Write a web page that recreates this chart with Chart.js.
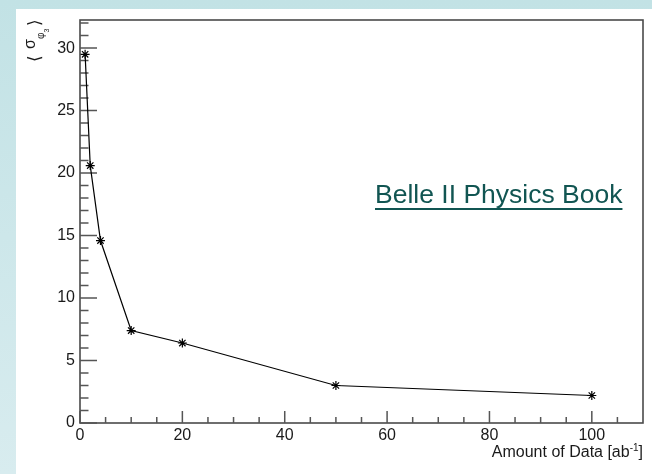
<!DOCTYPE html>
<html>
<head>
<meta charset="utf-8">
<title>sigma phi3 vs amount of data</title>
<script src="https://cdn.jsdelivr.net/npm/chart.js@4.4.1/dist/chart.umd.min.js"></script>
<style>
	body { margin: 0; width: 652px; height: 474px; overflow: hidden; background: linear-gradient(#c2e2e5, #d8ecef); font-family: "Liberation Sans", Arial, sans-serif; }
	#panel { position: absolute; left: 16px; top: 9px; right: 0; bottom: 0; background: #fff; }
	#grafik { position: absolute; left: 0; top: 0; }
	#book { position: absolute; left: 375px; top: 181px; font-size: 26.5px; line-height: 26px; color: #115552; text-decoration: underline; text-decoration-thickness: 2px; text-underline-offset: 5px; white-space: nowrap; }
</style>
</head>
<body>
<div id="panel"></div>
<canvas id="grafik" width="652" height="474"></canvas>
<div id="book">Belle II Physics Book</div>
<script>
	// integrated luminosity [ab^-1] and expected phi3 resolution
	var amount = [1, 2, 4, 10, 20, 50, 100];
	var sigmaPhi3 = [29.5, 20.6, 14.6, 7.4, 6.4, 3.0, 2.2];

	var xTicks = [0, 20, 40, 60, 80, 100];
	var yTicks = [0, 5, 10, 15, 20, 25, 30];

	var fontFamily = '"Liberation Sans", Arial, sans-serif';

	var points = [];
	for (var i = 0; i < amount.length; i++) {
		points.push({ x: amount[i], y: sigmaPhi3[i] });
	}

	// root style frame: box plus ticks pointing inwards, minor ticks in between
	var rootFrame = {
		id: 'rootFrame',
		beforeDatasetsDraw: function (chart) {
			var ctx = chart.ctx;
			var a = chart.chartArea;
			var sx = chart.scales.x;
			var sy = chart.scales.y;
			ctx.save();
			ctx.strokeStyle = '#4a4a4a';
			ctx.lineWidth = 1.6;
			ctx.strokeRect(a.left, a.top, a.right - a.left, a.bottom - a.top);

			ctx.strokeStyle = '#555';
			ctx.lineWidth = 1.5;
			ctx.beginPath();
			for (var v = 0; v < 110; v += 5) {
				var px = sx.getPixelForValue(v);
				var len = (v % 20 === 0) ? 12 : 6;
				ctx.moveTo(px, a.bottom);
				ctx.lineTo(px, a.bottom - len);
			}
			for (var w = 0; w <= 32; w += 1) {
				var py = sy.getPixelForValue(w);
				var l = (w % 5 === 0) ? 17 : 8.5;
				ctx.moveTo(a.left, py);
				ctx.lineTo(a.left + l, py);
			}
			ctx.stroke();
			ctx.restore();
		},
		afterDraw: function (chart) {
			var ctx = chart.ctx;
			var a = chart.chartArea;
			ctx.save();
			ctx.fillStyle = '#1a1a1a';
			ctx.textBaseline = 'alphabetic';

			// x title, right aligned to the frame, with superscript
			var t1 = 'Amount of Data [ab';
			var t2 = '-1';
			var t3 = ']';
			ctx.font = '16px ' + fontFamily;
			var w3 = ctx.measureText(t3).width;
			var w1 = ctx.measureText(t1).width;
			ctx.font = '10px ' + fontFamily;
			var w2 = ctx.measureText(t2).width;
			var x3 = a.right - w3;
			var x2 = x3 - w2;
			var x1 = x2 - w1;
			ctx.font = '16px ' + fontFamily;
			ctx.fillText(t1, x1, 457);
			ctx.fillText(t3, x3, 457);
			ctx.font = '10px ' + fontFamily;
			ctx.fillText(t2, x2, 451);

			// y title < sigma_phi3 >, rotated
			ctx.translate(0, 62);
			ctx.rotate(-Math.PI / 2);
			ctx.font = '17px "DejaVu Sans", ' + fontFamily;
			ctx.fillText('\u27E8', 0, 40);
			ctx.font = '16px ' + fontFamily;
			ctx.fillText('\u03C3', 13, 35);
			ctx.font = '10px ' + fontFamily;
			ctx.fillText('\u03C6', 23, 44);
			ctx.font = '7px ' + fontFamily;
			ctx.fillText('3', 29.5, 49);
			ctx.font = '17px "DejaVu Sans", ' + fontFamily;
			ctx.fillText('\u27E9', 36, 40);
			ctx.restore();
		}
	};

	var ctx = document.getElementById('grafik');

	var grafik = new Chart(ctx, {
		type: 'scatter',
		data: {
			datasets: [
				{
					label: 'sigma phi3',
					data: points,
					showLine: true,
					borderColor: '#000',
					borderWidth: 1.2,
					tension: 0,
					pointStyle: 'star',
					pointRadius: 4.5,
					pointBorderColor: '#000',
					pointBackgroundColor: '#000',
					pointBorderWidth: 1.2
				}
			]
		},
		options: {
			responsive: false,
			animation: false,
			layout: { padding: { top: 20, right: 9, left: 0, bottom: 0 } },
			plugins: {
				legend: { display: false },
				tooltip: { enabled: false }
			},
			scales: {
				x: {
					type: 'linear',
					min: 0,
					max: 110,
					grid: { display: false, drawTicks: false },
					border: { display: false },
					afterBuildTicks: function (s) {
						s.ticks = xTicks.map(function (v) { return { value: v }; });
					},
					afterFit: function (s) { s.height = 51; },
					ticks: {
						autoSkip: false,
						maxRotation: 0,
						padding: 3,
						color: '#1a1a1a',
						font: { size: 16, family: fontFamily }
					}
				},
				y: {
					type: 'linear',
					min: 0,
					max: 32.25,
					grid: { display: false, drawTicks: false },
					border: { display: false },
					afterBuildTicks: function (s) {
						s.ticks = yTicks.map(function (v) { return { value: v }; });
					},
					afterFit: function (s) { s.width = 80; },
					ticks: {
						autoSkip: false,
						padding: 5,
						color: '#1a1a1a',
						font: { size: 16, family: fontFamily }
					}
				}
			}
		},
		plugins: [rootFrame]
	});
</script>
</body>
</html>
